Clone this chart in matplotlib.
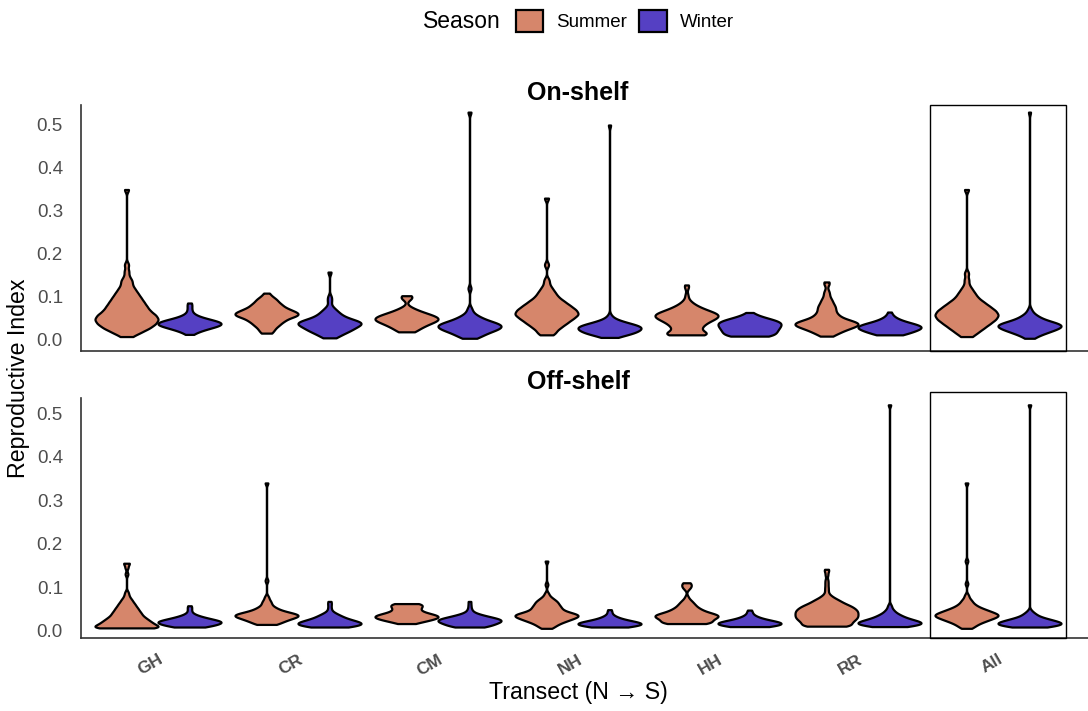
import numpy as np
import matplotlib
matplotlib.use("Agg")
import matplotlib.pyplot as plt
from matplotlib.patches import Rectangle, Patch
from matplotlib.transforms import blended_transform_factory

plt.rcParams['font.family'] = ['Liberation Sans', 'DejaVu Sans']

# ---------------- data ----------------
transects = ["GH", "CR", "CM", "NH", "HH", "RR", "All"]
seasons = ["Summer", "Winter"]
season_colors = ["#D6866B", "#5540C3"]
yticks = [0.0, 0.1, 0.2, 0.3, 0.4, 0.5]

# Reproductive index observations, binned: (value, number of observations)
# On-shelf, Summer (GH, CR, CM, NH, HH, RR, All)
on_summer = [
    [(0.008, 2), (0.018, 5), (0.028, 8), (0.038, 10), (0.048, 11), (0.058, 10), (0.068, 8), (0.078, 7),
     (0.088, 6), (0.098, 5), (0.108, 4), (0.118, 3), (0.128, 2), (0.138, 2), (0.148, 1), (0.160, 1),
     (0.175, 1), (0.350, 1)],
    [(0.016, 2), (0.025, 3), (0.035, 5), (0.045, 7), (0.055, 10), (0.063, 11), (0.072, 8), (0.082, 6),
     (0.092, 4), (0.100, 2), (0.109, 1)],
    [(0.019, 3), (0.026, 4), (0.033, 6), (0.040, 8), (0.047, 11), (0.054, 10), (0.061, 7), (0.068, 4),
     (0.075, 2), (0.095, 1), (0.100, 2), (0.103, 1)],
    [(0.012, 2), (0.020, 3), (0.030, 5), (0.040, 7), (0.050, 9), (0.060, 11), (0.070, 10), (0.080, 8),
     (0.090, 6), (0.100, 4), (0.110, 3), (0.120, 2), (0.130, 1), (0.140, 1), (0.175, 1), (0.330, 1)],
    [(0.012, 9), (0.016, 6), (0.022, 5), (0.028, 5), (0.034, 6), (0.040, 7), (0.046, 9), (0.052, 11),
     (0.058, 12), (0.064, 10), (0.070, 7), (0.076, 5), (0.082, 3), (0.088, 2), (0.095, 1), (0.105, 1),
     (0.122, 1), (0.128, 1)],
    [(0.009, 2), (0.016, 4), (0.023, 6), (0.030, 9), (0.037, 12), (0.044, 9), (0.051, 5), (0.058, 4),
     (0.065, 3), (0.072, 3), (0.079, 3), (0.086, 2), (0.093, 2), (0.100, 1), (0.107, 1), (0.114, 1),
     (0.130, 1), (0.135, 1)],
    [(0.008, 2), (0.018, 4), (0.028, 6), (0.038, 8), (0.048, 10), (0.058, 11), (0.068, 10), (0.078, 8),
     (0.088, 6), (0.098, 4), (0.108, 3), (0.118, 2), (0.128, 1), (0.140, 1), (0.155, 1), (0.350, 1)],
]

# On-shelf, Winter
on_winter = [
    [(0.013, 1), (0.018, 2), (0.023, 4), (0.028, 6), (0.033, 9), (0.038, 11), (0.043, 9), (0.048, 6),
     (0.053, 3), (0.058, 2), (0.065, 1), (0.072, 1), (0.080, 1), (0.086, 1)],
    [(0.005, 2), (0.012, 4), (0.020, 7), (0.028, 9), (0.036, 11), (0.043, 10), (0.050, 6), (0.057, 4),
     (0.064, 3), (0.071, 2), (0.078, 1), (0.090, 1), (0.100, 1), (0.158, 1)],
    [(0.004, 2), (0.010, 4), (0.017, 6), (0.024, 9), (0.031, 11), (0.038, 10), (0.045, 6), (0.052, 4),
     (0.059, 2), (0.066, 1), (0.074, 1), (0.120, 1), (0.530, 1)],
    [(0.006, 2), (0.011, 5), (0.016, 8), (0.021, 9), (0.026, 10), (0.031, 11), (0.036, 8), (0.041, 5),
     (0.046, 3), (0.051, 1), (0.057, 1), (0.500, 1)],
    [(0.009, 10), (0.014, 8), (0.019, 9), (0.024, 9), (0.029, 10), (0.034, 10), (0.039, 11), (0.044, 10),
     (0.049, 7), (0.054, 4), (0.059, 2), (0.064, 1)],
    [(0.012, 5), (0.017, 6), (0.022, 8), (0.027, 10), (0.032, 11), (0.037, 8), (0.042, 5), (0.047, 3),
     (0.052, 2), (0.058, 1), (0.065, 1)],
    [(0.004, 2), (0.010, 3), (0.015, 5), (0.020, 7), (0.025, 9), (0.030, 11), (0.035, 12), (0.040, 9),
     (0.045, 6), (0.050, 4), (0.055, 3), (0.060, 2), (0.066, 1), (0.072, 1), (0.530, 1)],
]

# Off-shelf, Summer
off_summer = [
    [(0.006, 14), (0.011, 10), (0.016, 9), (0.021, 8), (0.026, 7), (0.031, 6), (0.036, 5), (0.041, 5),
     (0.046, 4), (0.051, 4), (0.056, 3), (0.061, 3), (0.066, 2), (0.071, 2), (0.076, 1), (0.081, 1),
     (0.088, 1), (0.130, 1), (0.145, 1), (0.155, 2)],
    [(0.014, 4), (0.019, 5), (0.024, 7), (0.029, 9), (0.034, 12), (0.039, 10), (0.044, 6), (0.049, 4),
     (0.054, 3), (0.060, 2), (0.066, 2), (0.072, 1), (0.078, 1), (0.115, 1), (0.340, 1)],
    [(0.016, 3), (0.020, 5), (0.024, 8), (0.028, 10), (0.032, 12), (0.036, 10), (0.040, 7), (0.044, 5),
     (0.048, 4), (0.052, 5), (0.056, 5), (0.060, 5), (0.062, 4)],
    [(0.005, 2), (0.010, 3), (0.015, 4), (0.020, 6), (0.025, 8), (0.030, 10), (0.035, 12), (0.040, 9),
     (0.045, 6), (0.050, 5), (0.055, 5), (0.060, 4), (0.065, 4), (0.070, 3), (0.075, 2), (0.080, 1),
     (0.086, 1), (0.106, 1), (0.160, 1)],
    [(0.016, 10), (0.020, 8), (0.024, 8), (0.028, 9), (0.032, 11), (0.036, 11), (0.040, 8), (0.044, 6),
     (0.048, 5), (0.052, 4), (0.056, 3), (0.060, 3), (0.064, 2), (0.068, 2), (0.072, 1), (0.078, 1),
     (0.095, 1), (0.100, 2), (0.105, 2), (0.110, 2)],
    [(0.010, 11), (0.015, 9), (0.020, 10), (0.025, 11), (0.030, 12), (0.035, 12), (0.040, 12), (0.045, 12),
     (0.050, 11), (0.055, 10), (0.060, 8), (0.065, 6), (0.070, 5), (0.075, 3), (0.080, 2), (0.086, 1),
     (0.093, 1), (0.100, 1), (0.108, 1), (0.116, 1), (0.128, 1), (0.137, 1), (0.141, 1)],
    [(0.005, 2), (0.010, 3), (0.015, 4), (0.020, 6), (0.025, 8), (0.030, 10), (0.035, 12), (0.040, 10),
     (0.045, 8), (0.050, 6), (0.055, 4), (0.060, 3), (0.065, 2), (0.070, 2), (0.076, 1), (0.082, 1),
     (0.108, 1), (0.160, 1), (0.340, 1)],
]

# Off-shelf, Winter
off_winter = [
    [(0.008, 6), (0.012, 8), (0.016, 10), (0.020, 12), (0.024, 9), (0.028, 6), (0.032, 4), (0.036, 2),
     (0.040, 1), (0.046, 1), (0.052, 1), (0.057, 1)],
    [(0.008, 7), (0.012, 9), (0.016, 11), (0.020, 9), (0.024, 7), (0.028, 5), (0.032, 4), (0.036, 3),
     (0.040, 2), (0.045, 1), (0.052, 1), (0.060, 1), (0.067, 1)],
    [(0.008, 6), (0.012, 7), (0.016, 8), (0.020, 10), (0.024, 11), (0.028, 9), (0.032, 6), (0.036, 4),
     (0.040, 2), (0.045, 1), (0.050, 1), (0.058, 1), (0.067, 1)],
    [(0.008, 6), (0.012, 9), (0.016, 11), (0.020, 8), (0.024, 5), (0.028, 3), (0.032, 2), (0.036, 1),
     (0.042, 1), (0.048, 1)],
    [(0.009, 7), (0.013, 9), (0.017, 11), (0.021, 8), (0.025, 5), (0.029, 3), (0.033, 2), (0.037, 1),
     (0.042, 1), (0.047, 1)],
    [(0.009, 6), (0.013, 9), (0.017, 11), (0.021, 9), (0.025, 7), (0.029, 5), (0.033, 4), (0.037, 3),
     (0.041, 2), (0.046, 2), (0.052, 1), (0.058, 1), (0.520, 1)],
    [(0.008, 6), (0.012, 9), (0.016, 11), (0.020, 9), (0.024, 7), (0.028, 5), (0.032, 3), (0.036, 2),
     (0.040, 2), (0.046, 1), (0.520, 1)],
]

panels = [
    ("On-shelf", on_summer, on_winter),
    ("Off-shelf", off_summer, off_winter),
]


def expand(binned):
    vals = [v for v, n in binned]
    counts = [n for v, n in binned]
    return np.repeat(vals, counts)


# ---------------- figure ----------------
W, H = 1088, 711
fig = plt.figure(figsize=(W / 100, H / 100), dpi=100)


def fx(px):
    return px / W


def fy(py):
    return 1 - py / H


ax_specs = [
    dict(l=81, t=105, r=1089, b=351, ylim=(-0.0256, 0.5465), spine_top=None, bw=0.006, title_y=93),
    dict(l=81, t=392, r=1089, b=638, ylim=(-0.0173, 0.5495), spine_top=0.536, bw=0.0045, title_y=382),
]

offset = 0.225
vwidth = 0.45
pos = np.arange(1, len(transects) + 1)

for (title, summer, winter), sp in zip(panels, ax_specs):
    ax = fig.add_axes([fx(sp['l']), fy(sp['b']), fx(sp['r'] - sp['l']), (sp['b'] - sp['t']) / H])
    bw = sp['bw']

    def bw_fn(kde, bw=bw):
        sd = np.std(kde.dataset, ddof=1)
        return bw / sd

    for data, shift, col in ((summer, -offset, season_colors[0]), (winter, offset, season_colors[1])):
        samples = [expand(d) for d in data]
        vp = ax.violinplot(samples, positions=pos + shift, widths=vwidth, showextrema=False,
                           bw_method=bw_fn, points=800)
        for body in vp['bodies']:
            body.set_facecolor(col)
            body.set_edgecolor('black')
            body.set_linewidth(1.6)
            body.set_alpha(1)
            body.set_zorder(3)

    ax.set_xlim(0.45, 7.65)
    ax.set_ylim(*sp['ylim'])
    ax.set_yticks(yticks)
    ax.set_yticklabels([f"{v:.1f}" for v in yticks])
    ax.tick_params(axis='y', length=0, pad=13, labelsize=13.5, labelcolor='#4D4D4D')
    ax.tick_params(axis='x', length=0, pad=10)
    for s in ('top', 'right'):
        ax.spines[s].set_visible(False)
    for s in ('left', 'bottom'):
        ax.spines[s].set_color('#333333')
        ax.spines[s].set_linewidth(1.2)
    if sp['spine_top'] is not None:
        ax.spines['left'].set_bounds(sp['ylim'][0], sp['spine_top'])
    ax.set_xticks(pos)
    ax.patch.set_visible(False)

    # highlight box around "All"
    tr = blended_transform_factory(ax.transData, ax.transAxes)
    ax.add_patch(Rectangle((7 - 0.486, 0.0), 0.972, 1.0, transform=tr, fill=False,
                           edgecolor='black', linewidth=1.0, clip_on=False, zorder=4))

    if title == "On-shelf":
        ax.set_xticklabels([])
    else:
        ax.set_xticklabels(transects, rotation=30, ha='right', rotation_mode='anchor',
                           fontsize=12.5, fontweight='bold', color='#4D4D4D')
    fig.text(fx(578), fy(sp['title_y']), title, ha='center', va='center', fontsize=18,
             fontweight='bold')

# axis labels
fig.text(fx(19), fy(378), "Reproductive Index", rotation=90, ha='center', va='center', fontsize=16.7)
fig.text(fx(578), fy(693), "Transect (N \u2192 S)", ha='center', va='center', fontsize=16.7)

# legend
fig.text(fx(462), fy(22), "Season", ha='center', va='center', fontsize=16.5)
handles = [Patch(facecolor=c, edgecolor='black', linewidth=1.6) for c in season_colors]
fig.legend(handles, seasons, loc='center left', bbox_to_anchor=(fx(516), fy(21)),
           ncol=2, frameon=False, fontsize=13.5, handlelength=1.45, handleheight=1.45,
           handletextpad=0.7, columnspacing=0.65, borderaxespad=0, borderpad=0)

fig.savefig("out.png", dpi=100)
